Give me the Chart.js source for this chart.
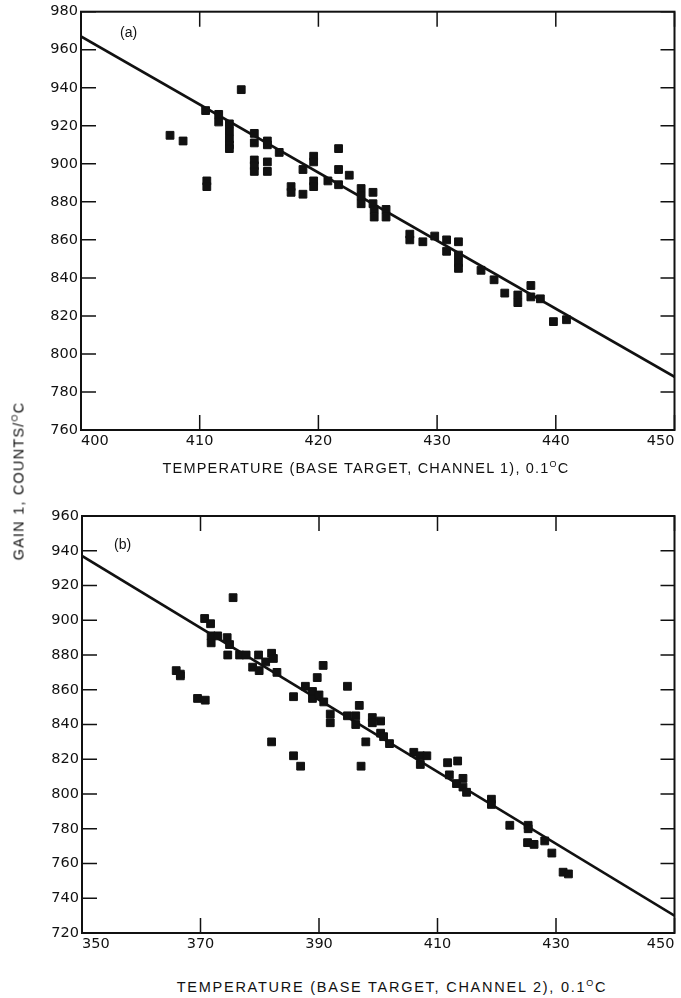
<!DOCTYPE html>
<html>
<head>
<meta charset="utf-8">
<script src="https://cdn.jsdelivr.net/npm/chart.js@4.4.1/dist/chart.umd.min.js"></script>
<style>
  html, body { margin: 0; padding: 0; background: #fff; }
  body { position: relative; width: 681px; height: 998px; overflow: hidden; font-family: "Liberation Sans", Arial, sans-serif; color: #111; }
  canvas { position: absolute; left: 0; }
  .txt { position: absolute; white-space: nowrap; color: #111; }
  .xt { font-size: 14.5px; transform: translateX(-50%); }
  .yt { font-size: 14.5px; letter-spacing: 1.2px; left: 18px; top: 481px; transform: translate(-50%, -50%) rotate(-90deg); }
  .pl { font-size: 14px; }
  sup { font-size: 9px; vertical-align: 6px; }
</style>
</head>
<body>
<canvas id="chartA" width="681" height="460" style="top:0"></canvas>
<canvas id="chartB" width="681" height="465" style="top:500px"></canvas>

<div class="txt pl" style="left:120px; top:24px">(a)</div>
<div class="txt pl" style="left:114px; top:536px">(b)</div>
<div class="txt xt" style="left:366px; top:459px; letter-spacing:1.2px">TEMPERATURE (BASE TARGET, CHANNEL 1), 0.1<sup>O</sup>C</div>
<div class="txt xt" style="left:392px; top:978px; letter-spacing:1.75px">TEMPERATURE (BASE TARGET, CHANNEL 2), 0.1<sup>O</sup>C</div>
<div class="txt yt">GAIN 1, COUNTS/<sup>O</sup>C</div>

<script>
// ─── Painel (a): canal 1 ──────────────────────────────────
const tempA = [407.5, 408.6, 410.6, 410.6, 410.5, 411.6, 411.6, 412.5, 412.5, 412.5, 412.5, 412.5,
  413.5, 414.6, 414.6, 414.6, 414.6, 414.6, 415.7, 415.7, 415.7, 415.7, 416.7, 417.7, 417.7,
  418.7, 418.7, 419.6, 419.6, 419.6, 419.6, 420.8, 421.7, 421.7, 421.7, 422.6, 423.6, 423.6,
  423.6, 424.6, 424.6, 424.7, 424.7, 425.7, 425.7, 427.7, 427.7, 428.8, 429.8, 430.8, 430.8,
  431.8, 431.8, 431.8, 431.8, 433.7, 434.8, 435.7, 436.8, 436.8, 437.9, 437.9, 438.7, 439.8, 440.9];
const gainA = [915, 912, 891, 888, 928, 926, 922, 921, 917, 913, 910, 908,
  939, 916, 911, 902, 899, 896, 912, 910, 901, 896, 906, 888, 885,
  884, 897, 904, 901, 891, 888, 891, 908, 897, 889, 894, 887, 883,
  879, 885, 879, 876, 872, 876, 872, 863, 860, 859, 862, 860, 854,
  859, 852, 848, 845, 844, 839, 832, 831, 827, 836, 830, 829, 817, 818];
const fitAx = [400, 450];
const fitAy = [967, 788];
const xTicksA = [400, 410, 420, 430, 440, 450];
const yTicksA = [760, 780, 800, 820, 840, 860, 880, 900, 920, 940, 960, 980];

// ─── Painel (b): canal 2 ──────────────────────────────────
const tempB = [365.9, 366.6, 366.6, 369.5, 370.8, 370.7, 371.7, 371.8, 371.8, 372.9, 374.5, 374.9,
  374.6, 375.5, 376.6, 377.7, 378.8, 379.8, 379.9, 381.0, 382.0, 382.3, 382.9, 382.0, 385.7,
  385.7, 386.9, 387.7, 388.9, 388.9, 389.7, 390.0, 390.7, 390.8, 391.9, 391.9, 394.8, 394.8,
  396.2, 396.2, 396.8, 397.1, 397.9, 399.0, 399.0, 400.4, 400.4, 400.9, 401.9, 406.0, 407.1,
  407.1, 408.2, 411.7, 413.4, 412.0, 413.2, 414.3, 414.3, 414.9, 419.1, 419.1, 422.2, 425.3,
  425.3, 425.2, 426.3, 428.1, 429.3, 431.2, 432.1];
const gainB = [871, 869, 868, 855, 854, 901, 898, 891, 887, 891, 890, 886,
  880, 913, 880, 880, 873, 880, 871, 876, 881, 878, 870, 830, 856,
  822, 816, 862, 859, 855, 867, 857, 874, 853, 846, 841, 862, 845,
  845, 840, 851, 816, 830, 844, 841, 842, 835, 833, 829, 824, 822,
  817, 822, 818, 819, 811, 806, 809, 804, 801, 797, 794, 782, 782,
  780, 772, 771, 773, 766, 755, 754];
const fitBx = [350, 450];
const fitBy = [937, 730];
const xTicksB = [350, 370, 390, 410, 430, 450];
const yTicksB = [720, 740, 760, 780, 800, 820, 840, 860, 880, 900, 920, 940, 960];

const INK = '#111';
const tickFont = { family: '"DejaVu Sans", "Liberation Sans", sans-serif', size: 14.5 };

// ─── Moldura com marcas de escala voltadas para dentro ────
const framePlugin = {
  id: 'frame',
  afterDraw(chart) {
    const { ctx, chartArea: a, scales: { x, y } } = chart;
    ctx.save();
    ctx.strokeStyle = INK;
    ctx.lineWidth = 2;
    ctx.strokeRect(a.left, a.top, a.right - a.left, a.bottom - a.top);
    ctx.lineWidth = 1.5;
    ctx.beginPath();
    x.ticks.forEach(t => {
      const px = x.getPixelForValue(t.value);
      ctx.moveTo(px, a.bottom); ctx.lineTo(px, a.bottom - 15);
      ctx.moveTo(px, a.top);    ctx.lineTo(px, a.top + 15);
    });
    y.ticks.forEach(t => {
      const py = y.getPixelForValue(t.value);
      ctx.moveTo(a.left, py);  ctx.lineTo(a.left + 15, py);
      ctx.moveTo(a.right, py); ctx.lineTo(a.right - 14, py);
    });
    ctx.stroke();
    ctx.restore();
  }
};

function buildPanel(id, temps, gains, fitX, fitY, xTicks, yTicks, pad, yWidth, xHeight) {
  const points = temps.map((t, i) => ({ x: t, y: gains[i] }));
  const fit = fitX.map((t, i) => ({ x: t, y: fitY[i] }));
  return new Chart(document.getElementById(id), {
    type: 'scatter',
    data: {
      datasets: [
        {
          data: points,
          pointStyle: 'rect',
          pointRadius: 5.5,
          backgroundColor: INK,
          borderColor: INK,
          borderWidth: 1,
        },
        {
          type: 'line',
          data: fit,
          borderColor: INK,
          borderWidth: 2.6,
          pointRadius: 0,
          fill: false,
        }
      ]
    },
    options: {
      responsive: false,
      animation: false,
      layout: { padding: pad },
      plugins: { legend: { display: false }, tooltip: { enabled: false } },
      scales: {
        x: {
          type: 'linear',
          min: xTicks[0], max: xTicks[xTicks.length - 1],
          grid: { display: false, drawTicks: false },
          border: { display: false },
          afterBuildTicks: s => { s.ticks = xTicks.map(v => ({ value: v })); },
          afterFit: s => { s.height = xHeight; },
          ticks: { align: 'inner', padding: 3, color: INK, font: tickFont, maxRotation: 0 }
        },
        y: {
          type: 'linear',
          min: yTicks[0], max: yTicks[yTicks.length - 1],
          grid: { display: false, drawTicks: false },
          border: { display: false },
          afterBuildTicks: s => { s.ticks = yTicks.map(v => ({ value: v })); },
          afterFit: s => { s.width = yWidth; },
          ticks: { padding: 3, color: INK, font: tickFont }
        }
      }
    },
    plugins: [framePlugin]
  });
}

buildPanel('chartA', tempA, gainA, fitAx, fitAy, xTicksA, yTicksA,
  { top: 10, right: 6, left: 0, bottom: 0 }, 81, 30);
buildPanel('chartB', tempB, gainB, fitBx, fitBy, xTicksB, yTicksB,
  { top: 16, right: 4, left: 0, bottom: 0 }, 82, 32);
</script>
</body>
</html>
